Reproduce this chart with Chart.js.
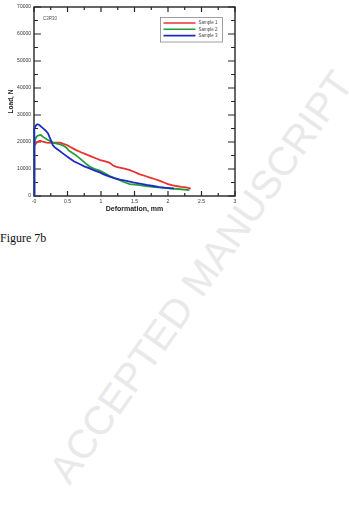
<!DOCTYPE html>
<html>
<head>
<meta charset="utf-8">
<script src="https://cdn.jsdelivr.net/npm/chart.js@4.4.1/dist/chart.umd.min.js"></script>
<style>
  body { margin: 0; background: #fff; width: 349px; height: 531px; overflow: hidden; position: relative; }
  #loadChart { position: absolute; left: 0; top: 0; }
  #caption { position: absolute; left: 0; top: 231px; font: 12px "Liberation Serif", serif; color: #111; }
  #stamp {
    position: absolute; left: 201px; top: 277px;
    transform: translate(-50%, -50%) rotate(-54.7deg);
    font: 40px "Liberation Sans", Arial, sans-serif; color: #e9e9e9;
    white-space: nowrap; pointer-events: none;
  }
</style>
</head>
<body>
<div id="stamp">ACCEPTED MANUSCRIPT</div>
<canvas id="loadChart" width="349" height="222"></canvas>
<div id="caption">Figure 7b</div>
<script>
// Load vs deformation, specimen C3R30
const seriesNames = ["Sample 1", "Sample 2", "Sample 3"];
const seriesColors = ["#e8322e", "#229e3c", "#1d2bc4"];

const sample1X = [0, 0, 0.01, 0.03, 0.06, 0.09, 0.13, 0.19, 0.25, 0.32, 0.39, 0.44, 0.5, 0.56, 0.63, 0.7, 0.78, 0.86, 0.93, 0.99, 1.05, 1.09, 1.13, 1.18, 1.23, 1.28, 1.35, 1.43, 1.5, 1.57, 1.65, 1.72, 1.8, 1.87, 1.94, 2.0, 2.06, 2.12, 2.2, 2.27, 2.34];
const sample1Y = [0, 12000, 18500, 19500, 20200, 20500, 20100, 19800, 19700, 19800, 19750, 19300, 18800, 17900, 17000, 16200, 15400, 14600, 13900, 13300, 12900, 12600, 12300, 11300, 10800, 10500, 10100, 9600, 8900, 8100, 7500, 6900, 6300, 5700, 5000, 4400, 4000, 3700, 3400, 3200, 2700];

const sample2X = [0, 0, 0.01, 0.035, 0.06, 0.1, 0.14, 0.19, 0.24, 0.29, 0.34, 0.39, 0.44, 0.48, 0.52, 0.57, 0.61, 0.66, 0.71, 0.77, 0.83, 0.9, 0.98, 1.05, 1.13, 1.2, 1.28, 1.35, 1.43, 1.5, 1.57, 1.67, 1.77, 1.9, 2.02, 2.15, 2.32];
const sample2Y = [0, 14000, 20000, 21900, 22400, 22600, 21800, 21000, 20300, 19700, 19400, 19100, 18600, 18000, 16800, 16000, 15400, 14400, 13400, 12100, 10900, 10100, 9400, 8500, 7400, 6600, 5900, 5100, 4400, 4200, 4000, 3700, 3400, 3100, 2850, 2600, 2200];

const sample3X = [0, 0, 0.01, 0.03, 0.05, 0.08, 0.11, 0.15, 0.18, 0.21, 0.23, 0.26, 0.28, 0.31, 0.36, 0.44, 0.53, 0.6, 0.68, 0.75, 0.83, 0.9, 0.98, 1.05, 1.13, 1.2, 1.28, 1.38, 1.48, 1.58, 1.68, 1.78, 1.87, 1.98, 2.09];
const sample3Y = [0, 18000, 25000, 26200, 26600, 26300, 25600, 24800, 24000, 23200, 21900, 20200, 18900, 18000, 17100, 15600, 13950, 12800, 11850, 11000, 10250, 9500, 8750, 7900, 7150, 6600, 6100, 5600, 5050, 4600, 4100, 3700, 3300, 3000, 2700];

const xTickValues = [0, 0.5, 1, 1.5, 2, 2.5, 3];
const xTickLabels = ["-0", "0.5", "1", "1.5", "2", "2.5", "3"];
const yTickLabels = ["0", "10000", "20000", "30000", "40000", "50000", "60000", "70000"];

const toPoints = (xs, ys) => xs.map((x, i) => ({ x: x, y: ys[i] }));
const allX = [sample1X, sample2X, sample3X];
const allY = [sample1Y, sample2Y, sample3Y];

const FONT = "'Liberation Sans', Arial, sans-serif";

// frame + inward tick marks on all four sides, like the original plot
const framePlugin = {
  id: "frame",
  beforeDatasetsDraw(chart) {
    const { ctx, chartArea: a, scales } = chart;
    ctx.save();
    ctx.strokeStyle = "#262626";
    ctx.lineWidth = 1.4;
    ctx.strokeRect(a.left, a.top, a.right - a.left, a.bottom - a.top);
    ctx.lineWidth = 1.2;
    ctx.beginPath();
    for (let v = 0; v <= 3.001; v += 0.25) {
      const px = scales.x.getPixelForValue(v);
      const len = Math.abs(v * 2 - Math.round(v * 2)) < 0.01 ? 5 : 3;
      ctx.moveTo(px, a.bottom); ctx.lineTo(px, a.bottom - len);
      ctx.moveTo(px, a.top); ctx.lineTo(px, a.top + len);
    }
    for (let v = 0; v <= 70000; v += 5000) {
      const py = scales.y.getPixelForValue(v);
      const len = v % 10000 === 0 ? 7 : 4;
      ctx.moveTo(a.left, py); ctx.lineTo(a.left + len, py);
      ctx.moveTo(a.right, py); ctx.lineTo(a.right - len, py);
    }
    ctx.stroke();
    ctx.fillStyle = "#555";
    ctx.font = "4.5px " + FONT;
    ctx.textBaseline = "middle";
    ctx.fillText("C3R30", a.left + 9, a.top + 12);
    ctx.restore();
  },
  afterDatasetsDraw(chart) {
    // legend box in the upper right of the plot
    const { ctx, chartArea: a } = chart;
    const bx = a.right - 74.5, by = a.top + 10.5, bw = 62, bh = 24.5;
    ctx.save();
    ctx.fillStyle = "#fff";
    ctx.fillRect(bx, by, bw, bh);
    ctx.strokeStyle = "#777";
    ctx.lineWidth = 0.7;
    ctx.strokeRect(bx, by, bw, bh);
    ctx.font = "4.5px " + FONT;
    ctx.textBaseline = "middle";
    chart.data.datasets.forEach((ds, i) => {
      const y = by + 5.5 + i * 6.3;
      ctx.strokeStyle = ds.borderColor;
      ctx.lineWidth = 1.6;
      ctx.beginPath();
      ctx.moveTo(bx + 3, y);
      ctx.lineTo(bx + 35, y);
      ctx.stroke();
      ctx.fillStyle = "#444";
      ctx.fillText(ds.label, bx + 38, y);
    });
    ctx.restore();
  }
};

const ctx = document.getElementById("loadChart").getContext("2d");
new Chart(ctx, {
  type: "scatter",
  data: {
    datasets: seriesNames.map((name, i) => ({
      label: name,
      data: toPoints(allX[i], allY[i]),
      showLine: true,
      borderColor: seriesColors[i],
      backgroundColor: seriesColors[i],
      borderWidth: 1.8,
      pointRadius: 0,
      tension: 0,
      clip: false,
      order: 2 - i,
    })),
  },
  options: {
    responsive: false,
    animation: false,
    layout: { padding: { left: 0, top: 7, right: 114, bottom: 0 } },
    plugins: {
      legend: { display: false },
      tooltip: { enabled: false },
    },
    scales: {
      x: {
        type: "linear",
        min: 0,
        max: 3,
        afterFit: (s) => { s.height = 26; },
        afterBuildTicks: (s) => { s.ticks = xTickValues.map((v) => ({ value: v })); },
        grid: { display: false, drawTicks: false },
        border: { display: false },
        ticks: {
          padding: 3,
          color: "#333",
          font: { size: 5, family: FONT },
          maxRotation: 0,
          callback: (v) => xTickLabels[xTickValues.indexOf(v)],
        },
        title: {
          display: true,
          text: "Deformation, mm",
          color: "#222",
          font: { size: 7, weight: "bold", family: FONT },
          padding: { top: 2, bottom: 8.5 },
        },
      },
      y: {
        type: "linear",
        min: 0,
        max: 70000,
        afterFit: (s) => { s.width = 34; },
        grid: { display: false, drawTicks: false },
        border: { display: false },
        ticks: {
          stepSize: 10000,
          padding: 3,
          color: "#333",
          font: { size: 5, family: FONT },
          callback: (v) => yTickLabels[Math.round(v / 10000)],
        },
        title: {
          display: true,
          text: "Load, N",
          color: "#222",
          font: { size: 6.5, weight: "bold", family: FONT },
          padding: { top: 7, bottom: 2 },
        },
      },
    },
  },
  plugins: [framePlugin],
});
</script>
</body>
</html>
